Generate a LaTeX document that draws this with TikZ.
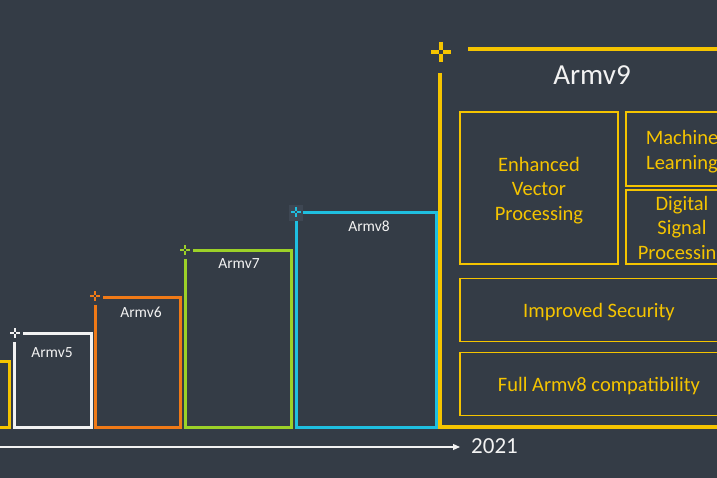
\documentclass[tikz,border=0pt]{standalone}
\usepackage{fontspec}
\setmainfont{Carlito}
\usetikzlibrary{arrows.meta}
\definecolor{bg}{HTML}{343C46}
\definecolor{armyellow}{HTML}{F5C400}
\definecolor{armwhite}{HTML}{F2F2F2}
\definecolor{armorange}{HTML}{F07A17}
\definecolor{armgreen}{HTML}{9CD128}
\definecolor{armcyan}{HTML}{1FBFE0}
\definecolor{plusbg}{HTML}{3E4753}
\newcommand\armplus[5]{% color, cx, cy, half size, gap
  \draw[#1] (#2-#4,#3) -- (#2-#5,#3) (#2+#5,#3) -- (#2+#4,#3)
            (#2,#3-#4) -- (#2,#3-#5) (#2,#3+#5) -- (#2,#3+#4);}
\tikzset{
  genbox/.style={line width=3pt, line cap=butt, line join=miter},
  genlabel/.style={text=armwhite, font=\fontsize{15.5}{18}\selectfont, inner sep=0pt},
  featbox/.style={draw=armyellow, line width=1.5pt, inner sep=0pt},
  feattext/.style={text=armyellow, font=\fontsize{20.5}{24.5}\selectfont, align=center, inner sep=0pt, yshift=-2.5pt},
  smallplus/.style={line width=2pt},
  bigplus/.style={line width=4pt}
}
\begin{document}
\begin{tikzpicture}[x=1pt,y=-1pt]
\fill[bg] (0,0) rectangle (717,478);
\useasboundingbox (0,0) rectangle (717,478);
\clip (0,0) rectangle (717,478);

% left partial box
\draw[genbox, armyellow] (-2,361) -- (9,361) -- (9,427) -- (-2,427);

% Armv5
\draw[genbox, armwhite] (14,342) -- (14,427) -- (91,427) -- (91,333) -- (23,333);
\armplus{smallplus, armwhite}{15}{333}{5}{1}
\node[genlabel] (a5) at (52,353) {Armv5};

% Armv6
\draw[genbox, armorange] (95,305) -- (95,427) -- (180,427) -- (180,297) -- (103,297);
\armplus{smallplus, armorange}{95}{296}{5}{1}
\node[genlabel] (a6) at (141,312) {Armv6};

% Armv7
\draw[genbox, armgreen] (185,259) -- (185,427) -- (291,427) -- (291,251) -- (193,251);
\armplus{smallplus, armgreen}{185}{250}{5}{1}
\node[genlabel] (a7) at (239,264) {Armv7};

% Armv8
\fill[plusbg] (289,205) rectangle (303,221);
\draw[genbox, armcyan] (296,221) -- (296,427) -- (436,427) -- (436,213) -- (303,213);
\armplus{smallplus, armcyan}{296}{212}{5}{1}
\node[genlabel] (a8) at (369,226) {Armv8};

% Armv9
\draw[genbox, armyellow, line width=3.5pt] (440,73) -- (440,427) -- (730,427);
\draw[genbox, armyellow, line width=3.5pt] (468,49) -- (730,49);
\armplus{bigplus, armyellow}{441}{52}{10}{2}
\node[text=armwhite, font=\fontsize{29}{34}\selectfont, inner sep=0pt] (a9) at (592,75) {Armv9};

% feature boxes
\node[featbox, minimum width=158pt, minimum height=152pt] (evp) at (539,188) {};
\node[feattext] (evpt) at (evp.center) {Enhanced\\Vector\\Processing};
\node[featbox, minimum width=112pt, minimum height=74pt] (ml) at (682,149) {};
\node[feattext] (mlt) at (ml.center) {Machine\\Learning};
\node[featbox, minimum width=112pt, minimum height=74pt] (dsp) at (682,227) {};
\node[feattext] (dspt) at (dsp.center) {Digital\\Signal\\Processing};
\node[featbox, minimum width=278pt, minimum height=63pt] (sec) at (599,310) {};
\node[feattext] (sect) at (sec.center) {Improved Security};
\node[featbox, minimum width=278pt, minimum height=63pt] (compat) at (599,384) {};
\node[feattext] (compatt) at (compat.center) {Full Armv8 compatibility};

% timeline
\coordinate (t0) at (-2,447);
\node[text=armwhite, font=\fontsize{23}{27}\selectfont, inner sep=0pt, anchor=west] (yr) at (471,446) {2021};
\draw[armwhite, line width=1.2pt, -{Triangle[length=7pt,width=6pt]}] (t0) -- ([xshift=-11pt]yr.west |- t0);
\end{tikzpicture}
\end{document}
